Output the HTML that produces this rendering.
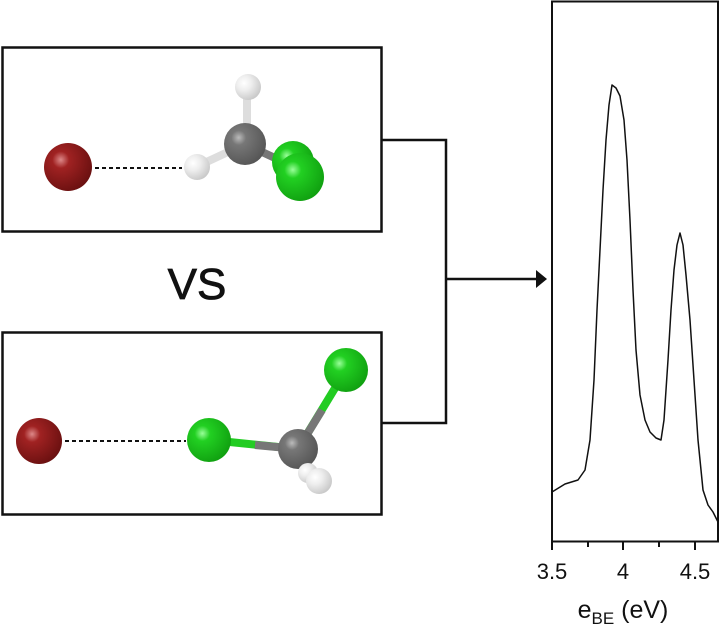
<!DOCTYPE html>
<html><head><style>body{margin:0;background:#fff}svg{display:block}</style></head><body>
<svg width="720" height="629" viewBox="0 0 720 629" xmlns="http://www.w3.org/2000/svg" font-family="Liberation Sans, sans-serif">
<defs>
<radialGradient id="br" cx="35%" cy="35%" r="70%"><stop offset="0" stop-color="#d88"/><stop offset="0.25" stop-color="#a02222"/><stop offset="1" stop-color="#6a1010"/></radialGradient>
<radialGradient id="cl" cx="35%" cy="35%" r="70%"><stop offset="0" stop-color="#9f9"/><stop offset="0.25" stop-color="#22d022"/><stop offset="1" stop-color="#10a010"/></radialGradient>
<radialGradient id="c" cx="35%" cy="35%" r="70%"><stop offset="0" stop-color="#bbb"/><stop offset="0.25" stop-color="#777"/><stop offset="1" stop-color="#555"/></radialGradient>
<radialGradient id="h" cx="35%" cy="35%" r="70%"><stop offset="0" stop-color="#fff"/><stop offset="0.4" stop-color="#eee"/><stop offset="1" stop-color="#c8c8c8"/></radialGradient>
</defs>
<rect x="2.5" y="47.5" width="379" height="184" fill="none" stroke="#111" stroke-width="2.5"/>
<rect x="2.5" y="332.5" width="379" height="182" fill="none" stroke="#111" stroke-width="2.5"/>
<polyline points="382,140 446,140 446,423 382,423" fill="none" stroke="#111" stroke-width="2.5"/>
<line x1="446" y1="279" x2="538" y2="279" stroke="#111" stroke-width="2.5"/>
<polygon points="536,270 547,279 536,288" fill="#111"/>
<text x="197" y="299" font-size="44" text-anchor="middle" fill="#111" stroke="#111" stroke-width="0.8">VS</text>
<!-- top molecule -->
<line x1="95" y1="168" x2="182" y2="168" stroke="#111" stroke-width="2" stroke-dasharray="4,3"/>
<line x1="247" y1="90" x2="247" y2="140" stroke="#ddd" stroke-width="8"/>
<line x1="200" y1="165" x2="243" y2="145" stroke="#ddd" stroke-width="8"/>
<line x1="247" y1="145" x2="290" y2="165" stroke="#777" stroke-width="8"/>
<circle cx="68" cy="167" r="24" fill="url(#br)"/>
<circle cx="197" cy="167" r="13" fill="url(#h)"/>
<circle cx="248" cy="87" r="13" fill="url(#h)"/>
<circle cx="245" cy="144" r="21" fill="url(#c)"/>
<circle cx="293" cy="162" r="21" fill="url(#cl)"/>
<circle cx="300" cy="177" r="24" fill="url(#cl)"/>
<!-- bottom molecule -->
<line x1="65" y1="441" x2="186" y2="441" stroke="#111" stroke-width="2" stroke-dasharray="4,3"/>
<line x1="210" y1="440" x2="298" y2="449" stroke="#22cc22" stroke-width="8"/>
<line x1="255" y1="445" x2="298" y2="449" stroke="#777" stroke-width="8"/>
<line x1="298" y1="449" x2="346" y2="370" stroke="#22cc22" stroke-width="8"/>
<line x1="298" y1="449" x2="322" y2="410" stroke="#777" stroke-width="8"/>
<circle cx="39" cy="441" r="23" fill="url(#br)"/>
<circle cx="209" cy="440" r="22" fill="url(#cl)"/>
<circle cx="346" cy="370" r="22" fill="url(#cl)"/>
<circle cx="298" cy="449" r="20" fill="url(#c)"/>
<circle cx="308" cy="473" r="10" fill="url(#h)"/>
<circle cx="319" cy="481" r="13" fill="url(#h)"/>
<!-- plot -->
<rect x="552" y="1.5" width="166" height="540" fill="none" stroke="#111" stroke-width="2"/>
<g stroke="#111" stroke-width="2">
<line x1="552" y1="541" x2="552" y2="550"/><line x1="588" y1="541" x2="588" y2="547"/>
<line x1="623" y1="541" x2="623" y2="550"/><line x1="659" y1="541" x2="659" y2="547"/>
<line x1="695" y1="541" x2="695" y2="550"/>
</g>
<polyline fill="none" stroke="#111" stroke-width="1.5" stroke-linejoin="round" points="552,492 565,484 578,480 585,470 590,440 594,380 597,310 600,250 603,190 606,140 609,105 612,85 616,88 620,96 624,120 627,160 630,220 633,290 636,350 640,395 645,420 650,432 656,438 661,440 664,420 668,360 671,310 674,270 677,245 680,233 683,245 686,275 690,320 694,380 698,440 703,490 708,505 713,512 718,522"/>
<g font-size="22" fill="#111" text-anchor="middle">
<text x="552" y="579">3.5</text><text x="623" y="579">4</text><text x="695" y="579">4.5</text>
<text x="623" y="618" font-size="25">e<tspan font-size="17" dy="6">BE</tspan><tspan dy="-6"> (eV)</tspan></text>
</g>
</svg>
</body></html>
